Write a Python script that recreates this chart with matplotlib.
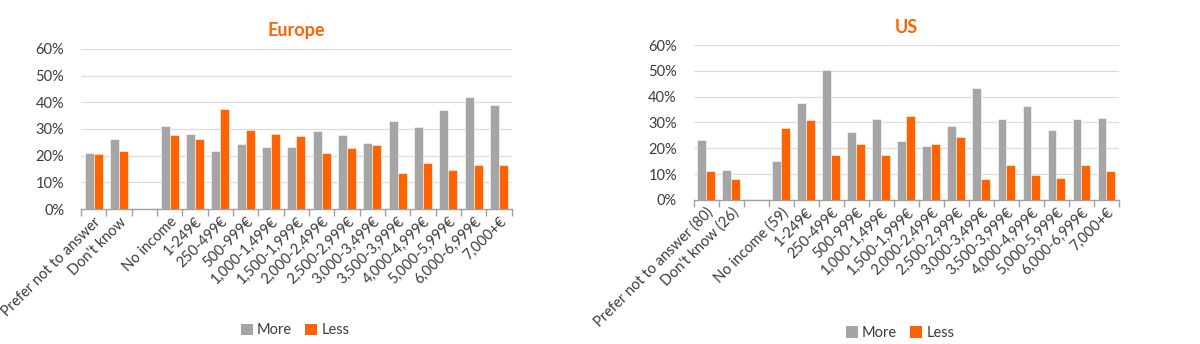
import matplotlib
matplotlib.use("Agg")
import matplotlib.pyplot as plt
import numpy as np
from matplotlib.ticker import FixedLocator, PercentFormatter
from matplotlib.patches import Patch

plt.rcParams['font.family'] = ['Lato', 'DejaVu Sans']

# Income bands (blank slot separates the non-answers from the income groups)
eu_labels = ["Prefer not to answer", "Don't know", "", "No income", "1-249€", "250-499€",
             "500-999€", "1,000-1,499€", "1,500-1,999€", "2,000-2,499€", "2,500-2,999€",
             "3,000-3,499€", "3,500-3,999€", "4,000-4,999€", "5,000-5,999€",
             "6,000-6,999€", "7,000+€"]
us_labels = ["Prefer not to answer (80)", "Don't know (26)", "", "No income (59)", "1-249€",
             "250-499€", "500-999€", "1,000-1,499€", "1,500-1,999€", "2,000-2,499€",
             "2,500-2,999€", "3,000-3,499€", "3,500-3,999€", "4,000-4,999€",
             "5,000-5,999€", "6,000-6,999€", "7,000+€"]

eu_more = [21.1, 26.2, 0, 31.1, 28.3, 21.7, 24.4, 23.1, 23.4, 29.4, 27.8, 24.8, 33.0,
           30.8, 37.1, 41.9, 39.0]
eu_less = [20.5, 21.6, 0, 27.8, 26.2, 37.6, 29.6, 28.1, 27.3, 20.9, 22.9, 23.9, 13.7,
           17.2, 14.8, 16.5, 16.5]
us_more = [23.1, 11.7, 0, 15.2, 37.7, 50.5, 26.3, 31.2, 22.8, 20.8, 28.6, 43.2, 31.2,
           36.4, 27.1, 31.2, 31.9]
us_less = [11.0, 7.9, 0, 28.0, 31.1, 17.2, 21.5, 17.2, 32.4, 21.5, 24.4, 8.1, 13.5,
           9.8, 8.5, 13.5, 11.0]

GREY = "#a5a5a5"
ORANGE = "#ff6200"
TEXT = "#3c3c3c"

fig = plt.figure(figsize=(12, 3.44), dpi=100)


def panel(rect, title, labels, more, less, legend_xy):
    ax = fig.add_axes(rect)
    x = np.arange(len(labels))
    w = 0.355
    ax.bar(x - w / 2, more, w, color=GREY, edgecolor="white", linewidth=0.4, zorder=3)
    ax.bar(x + w / 2, less, w, color=ORANGE, edgecolor="white", linewidth=0.4, zorder=3)
    ax.set_xlim(-0.5, len(labels) - 0.5)
    ax.set_ylim(0, 60)
    ax.set_yticks(np.arange(0, 61, 10))
    ax.yaxis.set_major_formatter(PercentFormatter(decimals=0))
    ax.grid(axis="y", color="#dcdcdc", linewidth=0.9, zorder=0)
    for s in ("top", "right", "left"):
        ax.spines[s].set_visible(False)
    ax.spines["bottom"].set_color("#a0a0a0")
    ax.spines["bottom"].set_linewidth(1.0)
    ax.set_xticks(x)
    ax.set_xticklabels(labels, rotation=45, ha="right", rotation_mode="anchor",
                       fontsize=10.5, color=TEXT)
    ax.tick_params(axis="x", which="major", length=0, pad=4)
    ax.xaxis.set_minor_locator(FixedLocator(np.arange(-0.5, len(labels), 1.0)))
    ax.tick_params(axis="x", which="minor", length=5, color="#a0a0a0", width=1.0)
    ax.tick_params(axis="y", length=0, labelsize=10.5, labelcolor=TEXT, pad=12)
    ax.set_title(title, color=ORANGE, fontsize=13, fontweight="bold", pad=9)
    handles = [Patch(facecolor=GREY, label="More"), Patch(facecolor=ORANGE, label="Less")]
    fig.legend(handles=handles, loc="center", bbox_to_anchor=legend_xy, ncol=2,
               frameon=False, fontsize=10.5, labelcolor=TEXT, handlelength=0.8,
               handleheight=0.8, handletextpad=0.3, columnspacing=0.9)
    return ax


panel([0.0675, 0.392, 0.359, 0.466], "Europe", eu_labels, eu_more, eu_less, (0.246, 0.04))
panel([0.578, 0.419, 0.3545, 0.450], "US", us_labels, us_more, us_less, (0.75, 0.032))

fig.savefig("out.png", dpi=100, facecolor="white")
